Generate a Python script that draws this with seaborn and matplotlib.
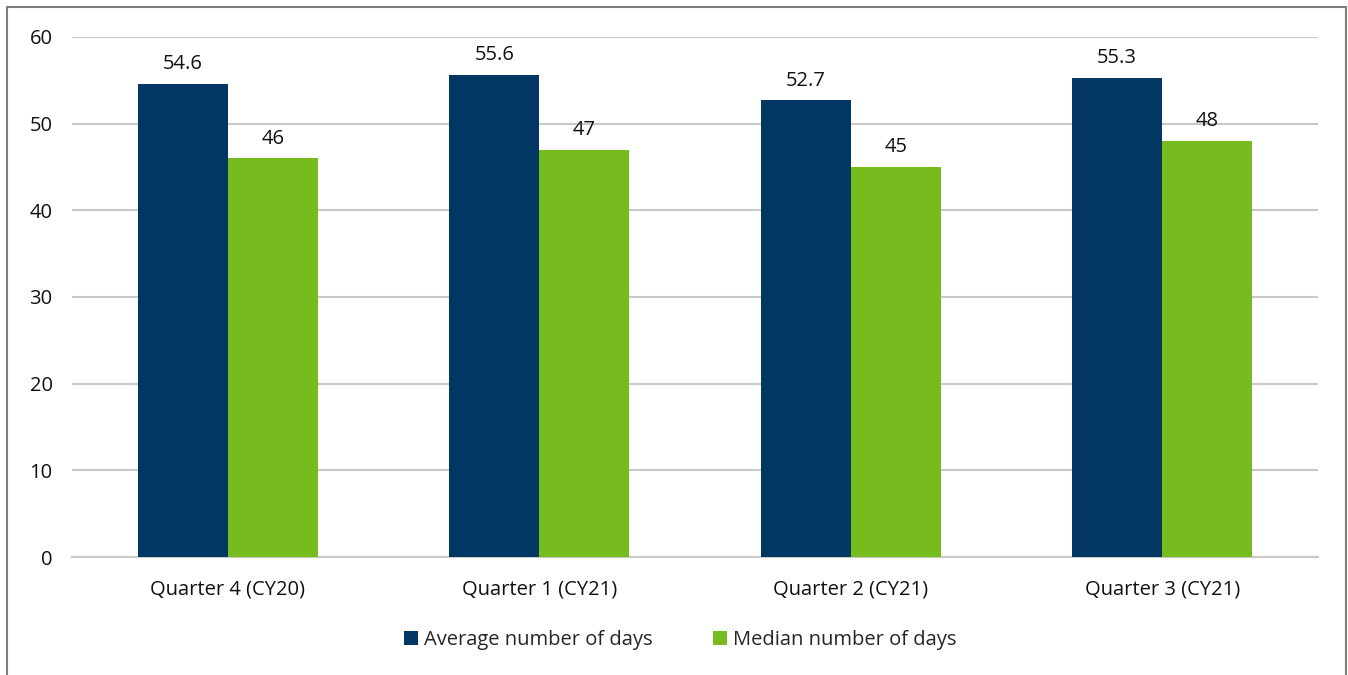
import numpy as np
import pandas as pd
import matplotlib
matplotlib.use("Agg")
from matplotlib import pyplot as plt
import seaborn as sns

# Data
quarters = ["Quarter 4 (CY20)", "Quarter 1 (CY21)", "Quarter 2 (CY21)", "Quarter 3 (CY21)"]
average_days = [54.6, 55.6, 52.7, 55.3]
median_days = [46, 47, 45, 48]
series_names = ["Average number of days", "Median number of days"]
value_labels = {"Average number of days": ["54.6", "55.6", "52.7", "55.3"],
                "Median number of days": ["46", "47", "45", "48"]}

navy = "#023764"
green = "#77bc1f"
grid_color = "#cacac4"
fs = 14.5

df = pd.DataFrame({
    "quarter": quarters * 2,
    "series": [series_names[0]] * 4 + [series_names[1]] * 4,
    "days": average_days + median_days,
})

sns.set_style("white")
plt.rcParams["font.family"] = ["Open Sans", "DejaVu Sans"]

fig = plt.figure(figsize=(13.48, 6.75), dpi=100)
ax = fig.add_axes([0.0534, 0.1748, 0.9243, 0.7704])

sns.barplot(
    data=df, x="quarter", y="days", hue="series",
    palette=[navy, green], width=0.578, saturation=1.0,
    ax=ax, zorder=3, legend=True, linewidth=0,
)

# Value labels above each bar
for container, name in zip(ax.containers, series_names):
    ax.bar_label(container, labels=value_labels[name], padding=7, fontsize=fs, color="#111111")

# Axes formatting
ax.set_ylim(0, 60)
ax.set_yticks(range(0, 61, 10))
ax.set_xlim(-0.5, 3.5)
ax.yaxis.grid(True, color=grid_color, lw=1.5, zorder=0)
ax.set_axisbelow(True)
for s in ["left", "right", "top"]:
    ax.spines[s].set_visible(False)
ax.spines["bottom"].set_color(grid_color)
ax.spines["bottom"].set_linewidth(1.5)
ax.set_xlabel("")
ax.set_ylabel("")
ax.tick_params(axis="both", length=0, labelsize=fs, colors="#111111")
ax.tick_params(axis="y", pad=14)
ax.tick_params(axis="x", pad=16)

# Legend
ax.legend(
    loc="center", ncol=2, frameon=False, fontsize=fs,
    handlelength=0.7, handleheight=0.7, handletextpad=0.3, columnspacing=3.0,
)
leg = ax.get_legend()
leg.set_bbox_to_anchor((0.5045, 0.052), transform=fig.transFigure)

# Outer border (left, top, right)
fig.add_artist(plt.Line2D([0.0055, 0.0055, 0.9985, 0.9985], [0.0, 0.9895, 0.9895, 0.0],
                          transform=fig.transFigure, color="#7f7f77", lw=1.5))

plt.savefig("out.png", dpi=100)
